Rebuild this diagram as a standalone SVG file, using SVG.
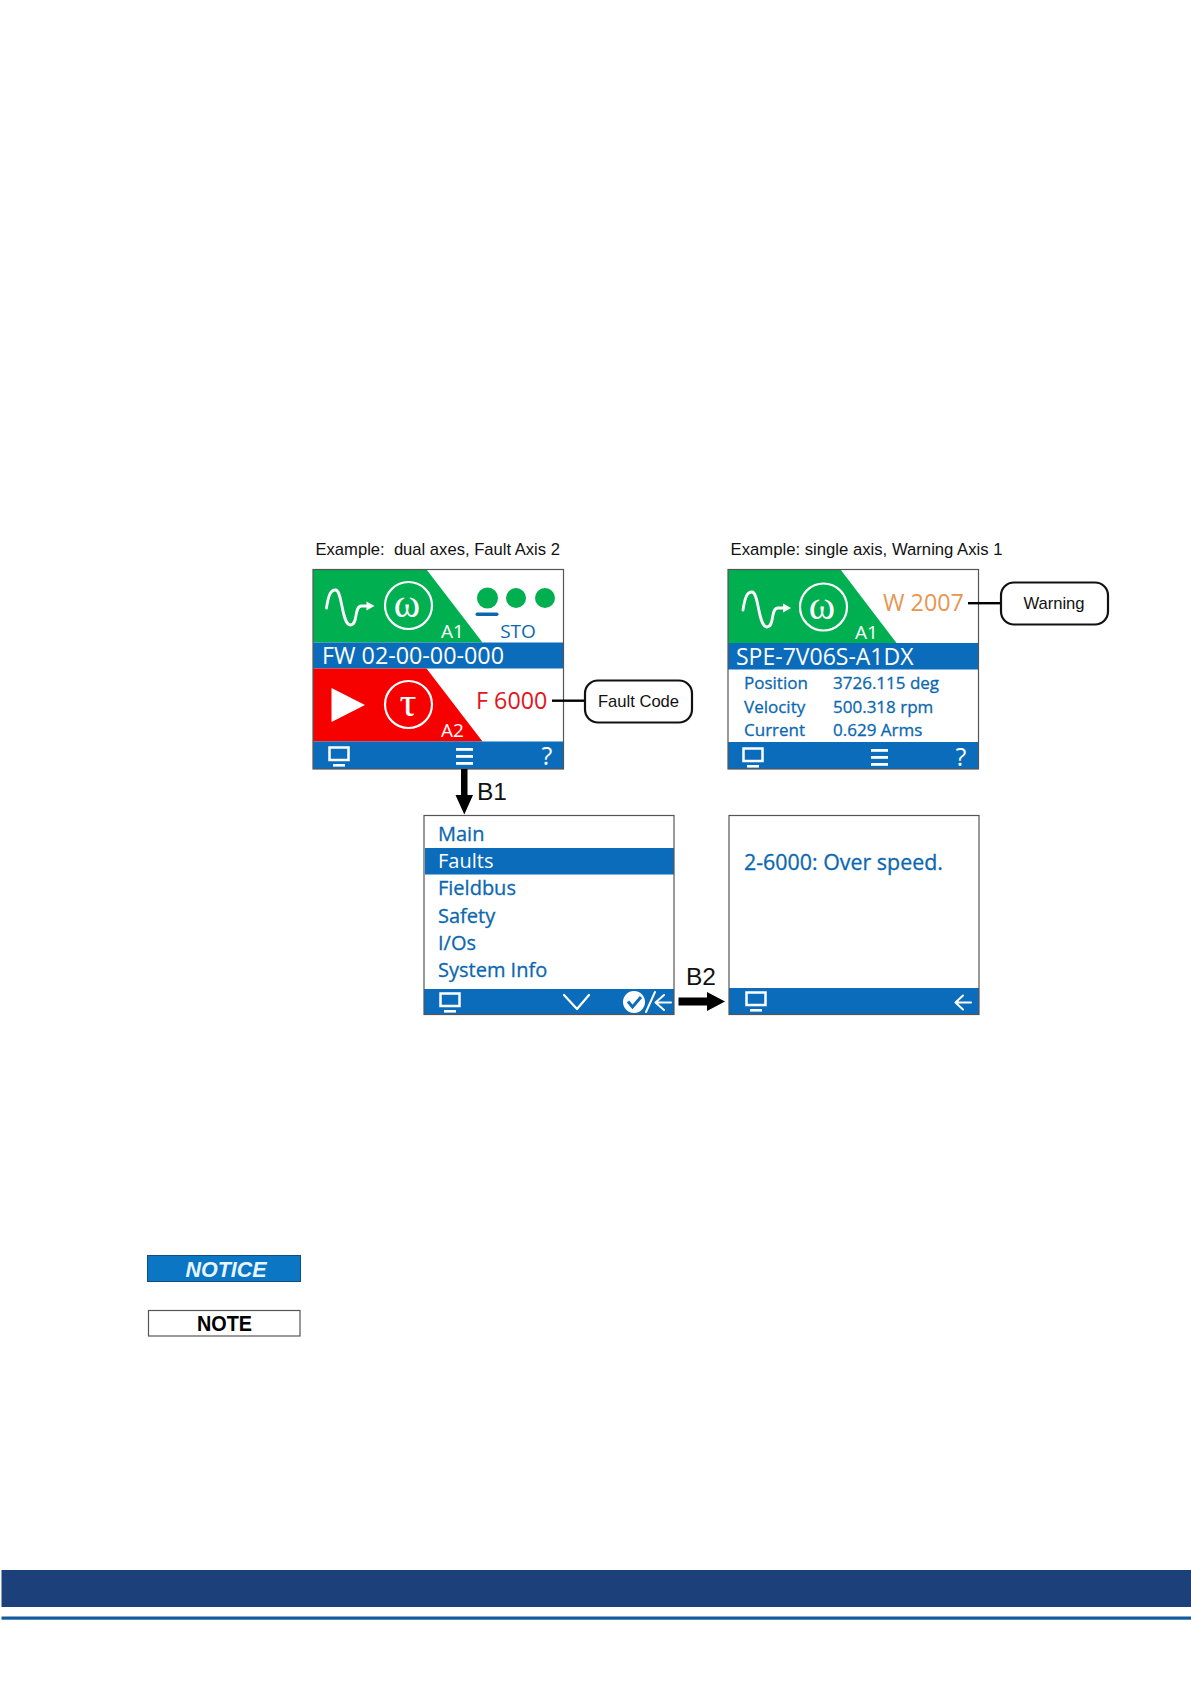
<svg xmlns="http://www.w3.org/2000/svg" width="1191" height="1684" viewBox="0 0 1191 1684">
<style>
.ar{font-family:"Liberation Sans",Arial,sans-serif;fill:#111}
.os{font-family:"Open Sans","Noto Sans",sans-serif}
.bl{fill:#0b68b0;stroke:#0b68b0;stroke-width:.3}
.bar{fill:#0b6cbb}
.fr{fill:none;stroke:#555;stroke-width:1.2}
.w{fill:#fff}
.wl{fill:none;stroke:#fff;stroke-linecap:round;stroke-linejoin:round}
.ic{fill:none;stroke:#fff;stroke-width:2.5}
.call{fill:#fff;stroke:#111;stroke-width:2.2}
.gr{font-family:"Liberation Serif",serif;fill:#fff;text-anchor:middle}
</style>
<defs>
<g id="mon"><rect x="1.5" y="1.5" width="19" height="12.5" class="ic"/><rect x="5" y="18" width="12" height="2.6" class="w"/></g>
<g id="menu"><rect x="0" y="0" width="17" height="2.8" class="w"/><rect x="0" y="7" width="17" height="2.8" class="w"/><rect x="0" y="14" width="17" height="2.8" class="w"/></g>
<g id="wave"><path d="M0 18C2 5 4 0 9 0C16 0 15 35 24 35C32 35 27 16 35 16L41 16" class="wl" stroke-width="2.8"/><path d="M40 11.500L48 16L40 20.500Z" class="w"/></g>
</defs>

<g id="footer"><rect x="1.500" y="1570" width="1189.500" height="37" fill="#1c4079"/><rect x="1.500" y="1616.500" width="1189.500" height="3.200" fill="#155a9c"/></g>

<g id="screen-dual">
<text x="315.500" y="555" class="ar" font-size="16.600" xml:space="preserve" style="white-space:pre">Example:  dual axes, Fault Axis 2</text>
<rect x="313" y="569.500" width="250.500" height="199.500" fill="#fff"/>
<polygon points="313,569.500 426.500,569.500 482.500,642.500 313,642.500" fill="#00b050"/>
<rect x="313" y="642.500" width="250.500" height="26" class="bar"/>
<polygon points="313,668.500 426.500,668.500 482.500,741.500 313,741.500" fill="#f60000"/>
<rect x="313" y="741.500" width="250.500" height="27.500" class="bar"/>
<use href="#wave" x="326.500" y="590"/>
<circle cx="408.500" cy="605.500" r="23.500" fill="none" stroke="#fff" stroke-width="2.200"/>
<text x="407" y="617" class="gr" font-size="40">ω</text>
<text x="441" y="638" class="os w" font-size="19">A1</text>
<circle cx="487.500" cy="598" r="10.500" fill="#00b050"/><circle cx="516" cy="598" r="10" fill="#00b050"/><circle cx="545" cy="598" r="10" fill="#00b050"/>
<rect x="475.500" y="612.500" width="23" height="3.500" rx="1.700" fill="#0b68b0"/>
<text x="518" y="638" text-anchor="middle" class="os" fill="#0b68b0" font-size="19">STO</text>
<text x="322" y="664" class="os w" font-size="23.300">FW 02-00-00-000</text>
<polygon points="331.500,688 365,705 331.500,722" class="w"/>
<circle cx="408.500" cy="704.500" r="23.500" fill="none" stroke="#fff" stroke-width="2.200"/>
<text x="408" y="716" class="gr" font-size="42">τ</text>
<text x="441" y="737" class="os w" font-size="19">A2</text>
<text x="476" y="709" class="os" font-size="23.300" fill="#e5141b">F 6000</text>
<use href="#mon" x="328" y="746"/><use href="#menu" x="456" y="748"/>
<text x="547" y="765" text-anchor="middle" class="os w" font-size="25">?</text>
<rect x="313" y="569.500" width="250.500" height="199.500" class="fr"/>
</g>

<g id="callout-fault">
<rect x="585" y="680.500" width="107" height="42" rx="13" class="call"/>
<text x="638.500" y="707" text-anchor="middle" class="ar" font-size="16.600">Fault Code</text>
</g>

<g id="screen-single">
<text x="730.500" y="555" class="ar" font-size="16.700">Example: single axis, Warning Axis 1</text>
<rect x="728" y="569.500" width="250.500" height="199.500" fill="#fff"/>
<polygon points="728,569.500 840.500,569.500 896.500,643 728,643" fill="#00b050"/>
<rect x="728" y="643" width="250.500" height="26.500" class="bar"/>
<rect x="728" y="742" width="250.500" height="27" class="bar"/>
<use href="#wave" x="743" y="592"/>
<circle cx="823.500" cy="607" r="23.500" fill="none" stroke="#fff" stroke-width="2.200"/>
<text x="822" y="618.500" class="gr" font-size="40">ω</text>
<text x="855" y="639" class="os w" font-size="19">A1</text>
<text x="883" y="611" class="os" font-size="23.300" fill="#e8954f">W 2007</text>
<text x="736" y="664.500" class="os w" font-size="23">SPE-7V06S-A1DX</text>
<g class="os bl" font-size="17">
<text x="744" y="689">Position</text><text x="833" y="689">3726.115 deg</text>
<text x="744" y="713">Velocity</text><text x="833" y="713">500.318 rpm</text>
<text x="744" y="736">Current</text><text x="833" y="736">0.629 Arms</text>
</g>
<use href="#mon" x="742" y="747"/><use href="#menu" x="871" y="749"/>
<text x="961" y="766" text-anchor="middle" class="os w" font-size="25">?</text>
<rect x="728" y="569.500" width="250.500" height="199.500" class="fr"/>
</g>

<g id="callout-warning">
<rect x="1001" y="582.500" width="107" height="42" rx="13" class="call"/>
<text x="1054" y="609" text-anchor="middle" class="ar" font-size="16.600">Warning</text>
</g>

<g id="screen-menu">
<rect x="424" y="815.500" width="250" height="199" fill="#fff"/>
<rect x="425" y="848" width="249" height="26.500" class="bar"/>
<rect x="424" y="989" width="250" height="25.500" class="bar"/>
<g class="os" font-size="20">
<text x="438" y="841" class="bl">Main</text>
<text x="438" y="868" class="w">Faults</text>
<text x="438" y="895" class="bl">Fieldbus</text>
<text x="438" y="923" class="bl">Safety</text>
<text x="438" y="950" class="bl">I/Os</text>
<text x="438" y="977" class="bl">System Info</text>
</g>
<use href="#mon" x="439" y="992"/>
<path d="M564 995L577 1009L589 995" class="wl" stroke-width="2.200"/>
<circle cx="634" cy="1002" r="11" class="w"/>
<path d="M628 1001.500L632.500 1007L641 997" fill="none" stroke="#0b6cbb" stroke-width="3"/>
<path d="M646 1012L655 992" class="wl" stroke-width="2"/>
<path d="M671 1002.500H656M664 995L655.500 1002.500L664 1010" class="wl" stroke-width="2"/>
<rect x="424" y="815.500" width="250" height="199" class="fr"/>
</g>

<g id="screen-detail">
<rect x="729" y="815.500" width="250" height="199" fill="#fff"/>
<rect x="729" y="988" width="250" height="26.500" class="bar"/>
<text x="744" y="870" class="os bl" font-size="21.400">2-6000: Over speed.</text>
<use href="#mon" x="745" y="991"/>
<path d="M971 1002.500H956M963 995.500L955.500 1002.500L963 1009.500" class="wl" stroke-width="2"/>
<rect x="729" y="815.500" width="250" height="199" class="fr"/>
</g>

<g id="connectors" fill="#000" stroke="none">
<rect x="552" y="699.500" width="32" height="2.400"/>
<rect x="968" y="602" width="32" height="2.400"/>
<polygon points="461,769 467.500,769 467.500,795 473,795 464.300,814.500 455.500,795 461,795"/>
<polygon points="678.500,997.500 707,997.500 707,992 725,1001.500 707,1011 707,1005.500 678.500,1005.500"/>
</g>
<text x="477" y="800" class="ar" font-size="24.500">B1</text>
<text x="686" y="985" class="ar" font-size="24.500">B2</text>

<g id="notice">
<rect x="147.500" y="1255.500" width="153" height="26" fill="#0a76c4" stroke="#0d4f80"/>
<text x="226" y="1277" text-anchor="middle" font-family="'Liberation Sans',Arial,sans-serif" font-weight="bold" font-style="italic" font-size="21.500" fill="#e6f5ff">NOTICE</text>
</g>
<g id="note">
<rect x="148.500" y="1310.500" width="151.500" height="25.500" fill="#fff" stroke="#555" stroke-width="1.200"/>
<text x="197" y="1331" textLength="55" lengthAdjust="spacingAndGlyphs" font-family="'Liberation Sans',Arial,sans-serif" font-weight="bold" font-size="21.500" fill="#000">NOTE</text>
</g>
</svg>
